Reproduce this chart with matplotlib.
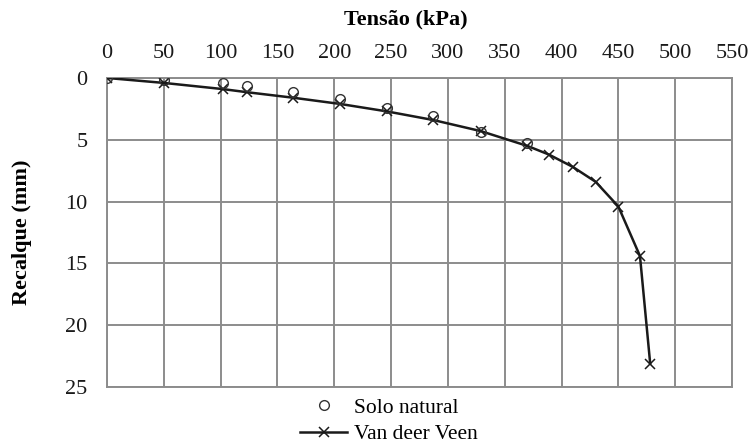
import matplotlib
matplotlib.use("Agg")
import matplotlib.pyplot as plt

# leituras do ensaio (Tensão kPa x Recalque mm)
solo_x = [0, 50, 102, 123, 164, 205, 246, 287, 329, 370]
solo_y = [0, 0.2, 0.4, 0.65, 1.1, 1.7, 2.4, 3.1, 4.4, 5.3]

vdv_x = [0, 50, 102, 123, 164, 205, 246, 287, 329, 370, 389, 410, 430, 450, 469, 478]
vdv_y = [0, 0.4, 0.9, 1.15, 1.6, 2.1, 2.7, 3.4, 4.3, 5.5, 6.2, 7.2, 8.4, 10.4, 14.4, 23.1]

x_ticks = list(range(0, 551, 50))
y_ticks = list(range(0, 26, 5))

plt.rcParams['font.family'] = ['Liberation Serif', 'DejaVu Serif']

fig = plt.figure(figsize=(7.49, 4.43), dpi=100)
ax = fig.add_axes([0.1429, 0.1264, 0.8344, 0.6976])

grid_c = '#8c8c8c'
ax.plot(vdv_x, vdv_y, color='#1a1a1a', linewidth=1.8, marker='x', markersize=6.5,
        markeredgewidth=1.1, label='Van deer Veen', zorder=3)
ax.plot(solo_x, solo_y, linestyle='none', marker='o', markersize=7, markerfacecolor='none',
        markeredgecolor='#333333', markeredgewidth=1.0, label='Solo natural', zorder=4)

ax.set_xlim(0, 550)
ax.set_ylim(25, 0)
ax.set_xticks(x_ticks)
ax.set_yticks(y_ticks)
ax.xaxis.tick_top()
ax.tick_params(axis='both', length=0, labelsize=16, colors='#1a1a1a')
ax.tick_params(axis='x', pad=11)
ax.tick_params(axis='y', pad=14)
ax.grid(True, color=grid_c, linewidth=1.4)
for s in ax.spines.values():
    s.set_color(grid_c)
    s.set_linewidth(1.4)

fig.text(0.542, 0.955, 'Tensão (kPa)', ha='center', va='center', fontsize=16, fontweight='bold')
ax.set_ylabel('Recalque (mm)', fontsize=16, fontweight='bold')
ax.yaxis.set_label_coords(-0.12, 0.5)

h, l = ax.get_legend_handles_labels()
fig.legend(h[::-1], l[::-1], loc='center', bbox_to_anchor=(0.519, 0.05), ncol=1, frameon=False,
           fontsize=15.5, handlelength=2.2, handletextpad=0.3, labelspacing=0.3, borderpad=0)

fig.savefig('out.png', dpi=100)
